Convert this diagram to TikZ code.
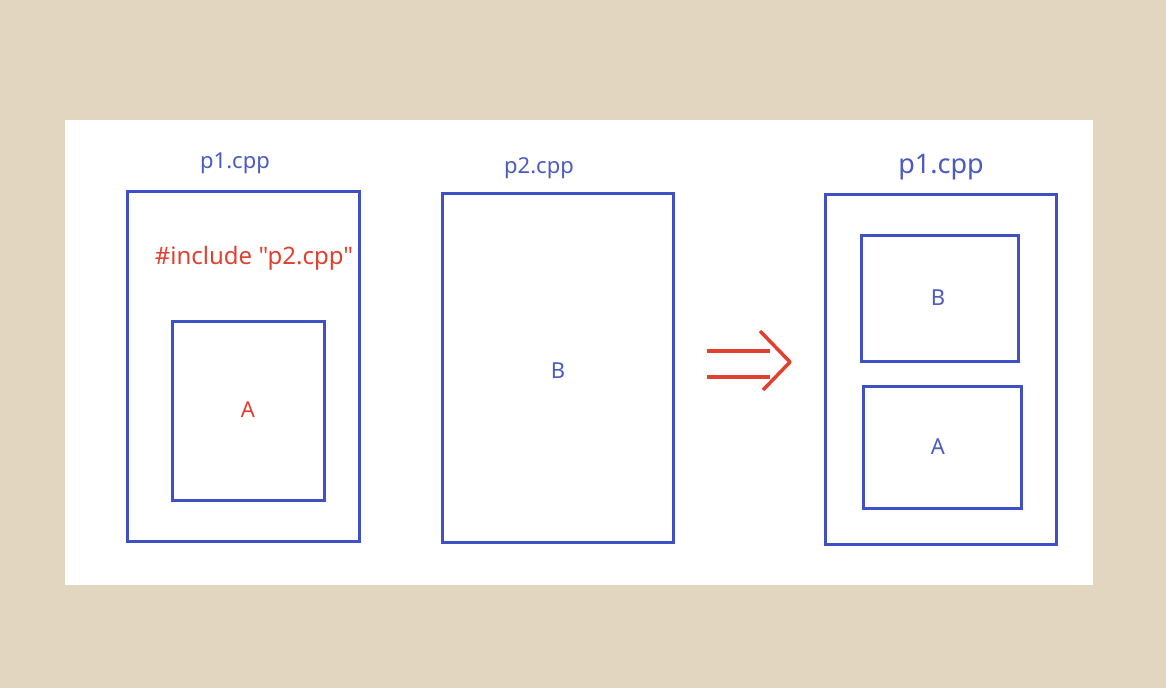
\documentclass[tikz,border=0pt]{standalone}
\usepackage{fontspec}
\setmainfont{Noto Sans}
\newfontfamily\nqfont{Noto Sans}
\definecolor{bgc}{HTML}{E3D6C1}
\definecolor{bl}{HTML}{3F4FC6}
\definecolor{blt}{HTML}{4C5BC2}
\definecolor{rd}{HTML}{E2402F}
\begin{document}
\begin{tikzpicture}[x=1pt,y=-1pt,
  box/.style={draw=bl,line width=3pt},
  lbl/.style={text=blt,font=\fontsize{22}{26}\selectfont,inner sep=0pt},
  rlbl/.style={text=rd,font=\fontsize{22}{26}\selectfont,inner sep=0pt}]
\fill[bgc] (0,0) rectangle (1166,688);
\useasboundingbox (0,0) rectangle (1166,688);
\fill[white] (65,120) rectangle (1093,585);
% left
\draw[box] (127,191) rectangle (359,541);
\draw[box] (172,321) rectangle (324,500);
\node[lbl] (p1a) at (235,163) {p1.cpp};
\node[rlbl,font=\nqfont\fontsize{24}{28}\selectfont] (inc) at (254,258) {\#include "p2.cpp"};
\node[rlbl] (A1) at (248,410) {A};
% middle
\draw[box] (442,193) rectangle (673,542);
\node[lbl] (p2) at (539,168) {p2.cpp};
\node[lbl] (B1) at (558,371) {B};
% arrow
\coordinate (l1s) at (707,351); \coordinate (l1e) at (770,351);
\coordinate (l2s) at (707,377); \coordinate (l2e) at (770,377);
\coordinate (ct) at (760,331); \coordinate (cm) at (790,362); \coordinate (cb) at (763,390);
\draw[rd,line width=3.5pt] (l1s) -- (l1e);
\draw[rd,line width=3.5pt] (l2s) -- (l2e);
\draw[rd,line width=3.5pt,line join=round] (ct) -- (cm) -- (cb);
% right
\draw[box] (825,194) rectangle (1056,544);
\draw[box] (861,235) rectangle (1018,361);
\draw[box] (863,386) rectangle (1021,508);
\node[lbl,font=\fontsize{27}{30}\selectfont] (p1b) at (941,167) {p1.cpp};
\node[lbl] (B2) at (938,298) {B};
\node[lbl] (A2) at (938,447) {A};
\end{tikzpicture}
\end{document}
